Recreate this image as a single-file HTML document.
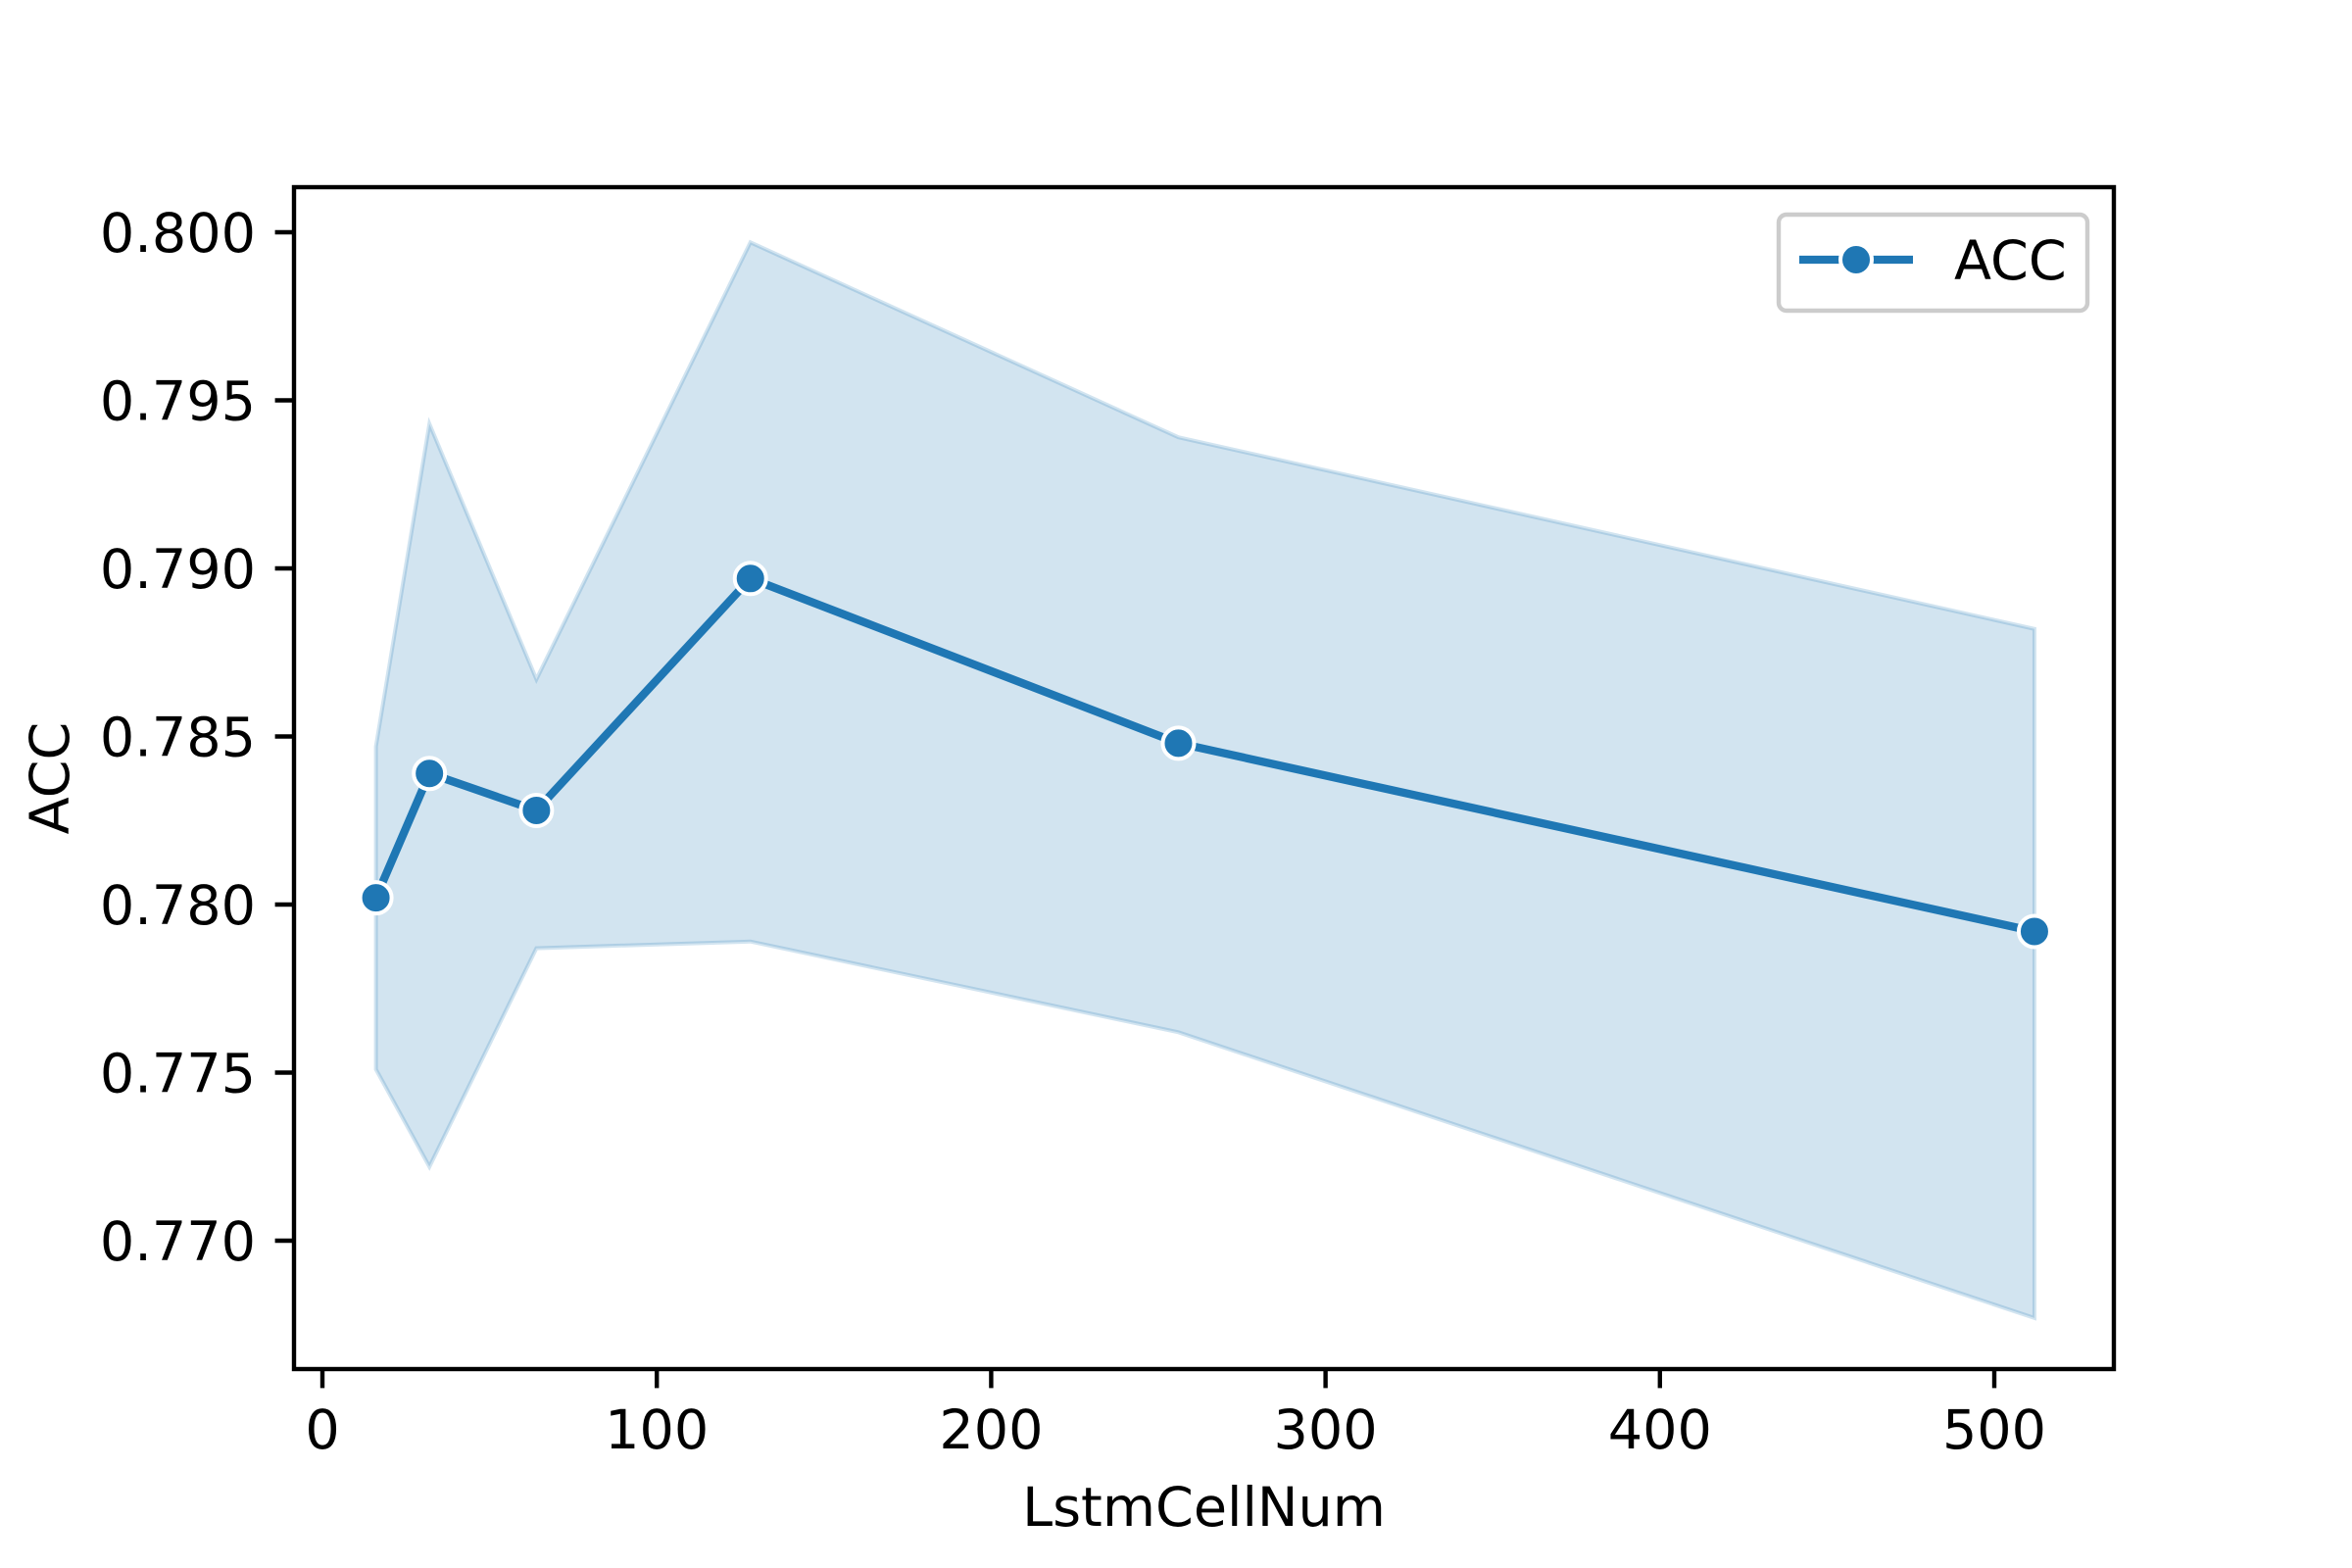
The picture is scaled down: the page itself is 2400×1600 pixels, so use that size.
<!DOCTYPE html>
<html><head><meta charset="utf-8"><style>
html,body{margin:0;padding:0;background:#fff;}
svg{display:block;font-family:"DejaVu Sans","Liberation Sans",sans-serif;}
</style></head><body>
<svg id="chart" width="2400" height="1600" viewBox="0 0 2400 1600" xmlns="http://www.w3.org/2000/svg">
<rect width="2400" height="1600" fill="#fff"/>
<g id="plot"></g>
</svg>
<script>
const xValues = [16, 32, 64, 128, 256, 512];
const accMean = [0.7802, 0.7839, 0.7828, 0.7897, 0.7848, 0.7792];
const accUpper = [0.7847, 0.7943, 0.7867, 0.7997, 0.7939, 0.7882];
const accLower = [0.7751, 0.7722, 0.7787, 0.7789, 0.7762, 0.7677];
const xTicks = [0, 100, 200, 300, 400, 500];
const yTicks = [0.770, 0.775, 0.780, 0.785, 0.790, 0.795, 0.800];
const yTickLabels = ["0.770", "0.775", "0.780", "0.785", "0.790", "0.795", "0.800"];

const L = 300, R = 2157, T = 191, B = 1397;
function sx(v){ return 329 + v * 3.412; }
function sy(v){ return 237 + (0.800 - v) / 0.005 * 171.5; }
const NS = "http://www.w3.org/2000/svg";
const g = document.getElementById('plot');
function mk(tag, attrs, parent){
  const e = document.createElementNS(NS, tag);
  for (const k in attrs) e.setAttribute(k, attrs[k]);
  (parent || g).appendChild(e);
  return e;
}
const blue = "#1f77b4";

let pts = xValues.map((x,i)=>sx(x)+","+sy(accUpper[i]));
for (let i = xValues.length-1; i >= 0; i--) pts.push(sx(xValues[i])+","+sy(accLower[i]));
const band = mk('polygon', {points: pts.join(' '), fill: blue, 'fill-opacity': 0.2, stroke: blue, 'stroke-opacity': 0.2, 'stroke-width': 4});



const line = mk('polyline', {points: xValues.map((x,i)=>sx(x)+","+sy(accMean[i])).join(' '), fill: 'none', stroke: blue, 'stroke-width': 8.3, 'stroke-linejoin': 'round', 'stroke-linecap': 'round'});



xValues.forEach((x,i)=>{
  const c = mk('circle', {cx: sx(x), cy: sy(accMean[i]), r: 16, fill: blue, stroke: '#fff', 'stroke-width': 4});
  
  
});

const frame = mk('rect', {x: L, y: T, width: R-L, height: B-T, fill: 'none', stroke: '#000', 'stroke-width': 4.4});



xTicks.forEach(v=>{
  const X = sx(v);
  const t = mk('line', {x1: X, x2: X, y1: B, y2: B+19.4, stroke: '#000', 'stroke-width': 4.4});
  
  
  const lb = mk('text', {x: X, y: 1478, 'text-anchor': 'middle', 'font-size': 55.6, fill: '#000'});
  lb.textContent = String(v);
  
  
});
yTicks.forEach((v,i)=>{
  const Y = sy(v);
  const t = mk('line', {x1: L-19.4, x2: L, y1: Y, y2: Y, stroke: '#000', 'stroke-width': 4.4});
  
  
  const lb = mk('text', {x: 261, y: Y + 20, 'text-anchor': 'end', 'font-size': 55.6, fill: '#000'});
  lb.textContent = yTickLabels[i];
  
  
});

const xt = mk('text', {x: (L+R)/2, y: 1557, 'text-anchor': 'middle', 'font-size': 55.6, fill: '#000'});
xt.textContent = 'LstmCellNum';


const yt = mk('text', {x: 0, y: 0, 'text-anchor': 'middle', 'font-size': 55.6, fill: '#000', transform: 'translate(70,' + ((T+B)/2) + ') rotate(-90)'});
yt.textContent = 'ACC';



const lg = mk('g', {});


const lbox = mk('rect', {x: 1815, y: 219, width: 315, height: 98, rx: 8, fill: '#fff', 'fill-opacity': 0.8, stroke: '#ccc', 'stroke-width': 4.4}, lg);


const ll = mk('line', {x1: 1836, x2: 1952, y1: 265, y2: 265, stroke: blue, 'stroke-width': 8.3}, lg);


const lm = mk('circle', {cx: 1894, cy: 265, r: 16, fill: blue, stroke: '#fff', 'stroke-width': 4}, lg);


const lt = mk('text', {x: 1994, y: 285, 'font-size': 55.6, fill: '#000'}, lg);
lt.textContent = 'ACC';


</script>
</body></html>
